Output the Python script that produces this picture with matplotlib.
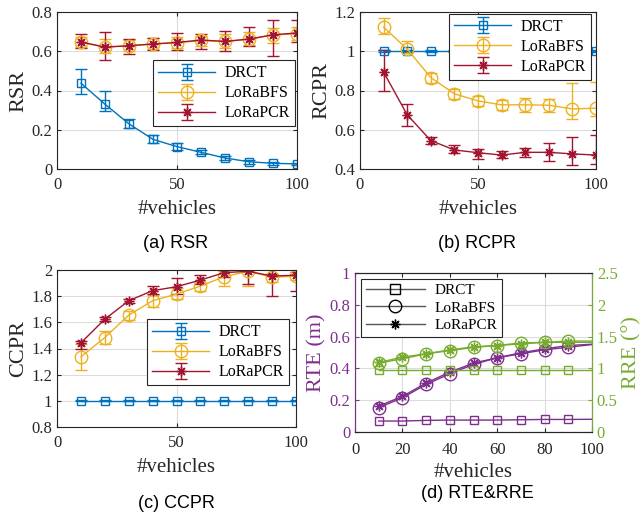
import matplotlib
matplotlib.use("Agg")
import matplotlib.pyplot as plt
from matplotlib.lines import Line2D
import numpy as np

plt.rcParams['font.family'] = ['Liberation Serif', 'DejaVu Serif']
plt.rcParams['mathtext.fontset'] = 'stix'

x = [10, 20, 30, 40, 50, 60, 70, 80, 90, 100]

# (a) RSR
rsr_drct = [0.437, 0.33, 0.23, 0.151, 0.114, 0.085, 0.056, 0.037, 0.029, 0.026]
rsr_drct_lo = [0.381, 0.293, 0.208, 0.131, 0.097, 0.075, 0.047, 0.028, 0.02, 0.018]
rsr_drct_hi = [0.51, 0.40, 0.254, 0.174, 0.131, 0.095, 0.066, 0.046, 0.037, 0.033]
rsr_bfs = [0.645, 0.622, 0.628, 0.637, 0.643, 0.655, 0.650, 0.662, 0.682, 0.690]
rsr_bfs_lo = [0.62, 0.59, 0.60, 0.612, 0.615, 0.625, 0.615, 0.632, 0.64, 0.655]
rsr_bfs_hi = [0.675, 0.66, 0.655, 0.665, 0.675, 0.68, 0.69, 0.70, 0.72, 0.725]
rsr_pcr = [0.647, 0.621, 0.628, 0.637, 0.645, 0.657, 0.650, 0.662, 0.684, 0.693]
rsr_pcr_lo = [0.616, 0.557, 0.587, 0.604, 0.608, 0.614, 0.601, 0.625, 0.574, 0.645]
rsr_pcr_hi = [0.686, 0.698, 0.664, 0.669, 0.694, 0.686, 0.705, 0.723, 0.757, 0.757]

# (b) RCPR
rcpr_drct = [1.0] * 10
rcpr_bfs = [1.123, 1.011, 0.866, 0.783, 0.747, 0.727, 0.727, 0.725, 0.706, 0.71]
rcpr_bfs_lo = [1.09, 0.99, 0.84, 0.756, 0.72, 0.70, 0.69, 0.69, 0.654, 0.671]
rcpr_bfs_hi = [1.169, 1.05, 0.888, 0.81, 0.77, 0.75, 0.76, 0.756, 0.837, 0.841]
rcpr_pcr = [0.894, 0.676, 0.545, 0.497, 0.483, 0.471, 0.485, 0.485, 0.477, 0.471]
rcpr_pcr_lo = [0.80, 0.62, 0.528, 0.483, 0.451, 0.454, 0.46, 0.443, 0.422, 0.426]
rcpr_pcr_hi = [1.004, 0.73, 0.562, 0.523, 0.50, 0.494, 0.509, 0.535, 0.563, 0.574]

# (c) CCPR
ccpr_drct = [1.0] * 10
ccpr_bfs = [1.336, 1.484, 1.655, 1.765, 1.816, 1.877, 1.949, 1.99, 1.944, 1.954]
ccpr_bfs_lo = [1.239, 1.433, 1.62, 1.72, 1.775, 1.84, 1.877, 1.877, 1.91, 1.92]
ccpr_bfs_hi = [1.433, 1.53, 1.69, 1.81, 1.86, 1.91, 1.99, 2.01, 1.97, 1.97]
ccpr_pcr = [1.443, 1.624, 1.765, 1.842, 1.872, 1.923, 1.98, 1.99, 1.954, 1.96]
ccpr_pcr_lo = [1.40, 1.61, 1.75, 1.82, 1.82, 1.89, 1.95, 1.89, 1.80, 1.84]
ccpr_pcr_hi = [1.46, 1.64, 1.78, 1.877, 1.936, 1.96, 2.0, 2.0, 1.97, 1.985]

# (d) RTE & RRE
rte_drct = [0.069, 0.069, 0.073, 0.075, 0.075, 0.075, 0.077, 0.079, 0.079, 0.080]
rte_bfs = [0.153, 0.215, 0.299, 0.366, 0.425, 0.467, 0.492, 0.517, 0.533, 0.550]
rte_pcr = [0.163, 0.224, 0.308, 0.377, 0.433, 0.467, 0.498, 0.523, 0.544, 0.552]
rre_drct = [0.98] * 10
rre_bfs = [1.083, 1.15, 1.23, 1.28, 1.33, 1.36, 1.40, 1.41, 1.43, 1.43]
rre_pcr = [1.093, 1.177, 1.23, 1.29, 1.34, 1.36, 1.386, 1.41, 1.41, 1.41]

labels = ['DRCT', 'LoRaBFS', 'LoRaPCR']
C_BLUE = '#0072BD'
C_YEL = '#EDB120'
C_RED = '#A2142F'
C_PUR = '#7E2F8E'
C_GRN = '#77AC30'
AX_COL = '#262626'
STAR = (8, 2, 0)

W, H = 644, 514
fig = plt.figure(figsize=(W / 100, H / 100), dpi=100)


def add_ax(l, r, t, b):
    return fig.add_axes([l / W, (H - b) / H, (r - l) / W, (b - t) / H])


def style(ax, right=True):
    ax.grid(True, color='#dcdcdc', linewidth=0.8)
    ax.set_axisbelow(True)
    ax.tick_params(direction='in', top=True, right=right, labelsize=12,
                   colors=AX_COL, length=3)
    ax.tick_params(axis='x', pad=6)
    for s in ax.spines.values():
        s.set_color(AX_COL)
        s.set_linewidth(0.8)


def err(lo, v, hi):
    v = np.array(v)
    return [v - np.array(lo), np.array(hi) - v]


def eb(ax, y, lo, hi, color, marker, ms, label):
    ax.errorbar(x, y, yerr=err(lo, y, hi), color=color, marker=marker, ms=ms,
                mfc='none', mec=color, capsize=4.5, lw=1.0, elinewidth=1.0,
                capthick=1.0, label=label)


def legend(ax, loc, anchor, handles=None, fs=11.5, hl=3.6):
    kw = dict(loc=loc, bbox_to_anchor=anchor, fontsize=fs, fancybox=False,
              edgecolor=AX_COL, framealpha=1, handlelength=hl, borderpad=0.3,
              labelspacing=0.25, handletextpad=0.6, borderaxespad=0)
    if handles is None:
        leg = ax.legend(**kw)
    else:
        leg = ax.legend(handles, labels, **kw)
    leg.get_frame().set_linewidth(0.8)
    return leg


# ---------- (a)
ax = add_ax(57, 297, 12, 169)
style(ax)
eb(ax, rsr_drct, rsr_drct_lo, rsr_drct_hi, C_BLUE, 's', 6, labels[0])
eb(ax, rsr_bfs, rsr_bfs_lo, rsr_bfs_hi, C_YEL, 'o', 9, labels[1])
eb(ax, rsr_pcr, rsr_pcr_lo, rsr_pcr_hi, C_RED, STAR, 7, labels[2])
ax.set_xlim(0, 100)
ax.set_ylim(0, 0.8)
ax.set_xticks([0, 50, 100])
ax.set_yticks([0, 0.2, 0.4, 0.6, 0.8])
ax.set_yticklabels(['0', '0.2', '0.4', '0.6', '0.8'])
ax.set_xlabel('#vehicles', fontsize=15, color=AX_COL, labelpad=5)
ax.set_ylabel('RSR', fontsize=16, color=AX_COL, labelpad=2)
legend(ax, 'lower right', (0.992, 0.274))

# ---------- (b)
ax = add_ax(360, 596, 12, 169)
style(ax)
eb(ax, rcpr_drct, [0.995] * 10, [1.005] * 10, C_BLUE, 's', 6, labels[0])
eb(ax, rcpr_bfs, rcpr_bfs_lo, rcpr_bfs_hi, C_YEL, 'o', 9, labels[1])
eb(ax, rcpr_pcr, rcpr_pcr_lo, rcpr_pcr_hi, C_RED, STAR, 7, labels[2])
ax.set_xlim(0, 100)
ax.set_ylim(0.4, 1.2)
ax.set_xticks([0, 50, 100])
ax.set_yticks([0.4, 0.6, 0.8, 1.0, 1.2])
ax.set_yticklabels(['0.4', '0.6', '0.8', '1', '1.2'])
ax.set_xlabel('#vehicles', fontsize=15, color=AX_COL, labelpad=5)
ax.set_ylabel('RCPR', fontsize=16, color=AX_COL, labelpad=2)
legend(ax, 'upper right', (0.979, 0.987))

# ---------- (c)
ax = add_ax(57, 296, 270, 427)
style(ax)
eb(ax, ccpr_drct, [0.995] * 10, [1.005] * 10, C_BLUE, 's', 6, labels[0])
eb(ax, ccpr_bfs, ccpr_bfs_lo, ccpr_bfs_hi, C_YEL, 'o', 9, labels[1])
eb(ax, ccpr_pcr, ccpr_pcr_lo, ccpr_pcr_hi, C_RED, STAR, 7, labels[2])
ax.set_xlim(0, 100)
ax.set_ylim(0.8, 2.0)
ax.set_xticks([0, 50, 100])
ax.set_yticks([0.8, 1.0, 1.2, 1.4, 1.6, 1.8, 2.0])
ax.set_yticklabels(['0.8', '1', '1.2', '1.4', '1.6', '1.8', '2'])
ax.set_xlabel('#vehicles', fontsize=15, color=AX_COL, labelpad=5)
ax.set_ylabel('CCPR', fontsize=16, color=AX_COL, labelpad=2)
legend(ax, 'lower right', (0.971, 0.268))

# ---------- (d)
ax = add_ax(355, 592, 273, 432)
ax2 = ax.twinx()
ax.grid(True, color='#dcdcdc', linewidth=0.8)
ax.set_axisbelow(True)
ax.tick_params(direction='in', top=True, labelsize=12, length=3)
ax.tick_params(axis='x', colors=AX_COL, pad=7)
ax.tick_params(axis='y', colors=C_PUR)
ax2.tick_params(direction='in', labelsize=12, length=3, colors=C_GRN)
for a in (ax, ax2):
    for s in a.spines.values():
        s.set_color(AX_COL)
        s.set_linewidth(0.8)
ax2.spines['left'].set_color(C_PUR)
ax2.spines['right'].set_color(C_GRN)
me = list(range(9))
ax.plot(x, rte_drct, color=C_PUR, marker='s', ms=6, mfc='none', lw=1, markevery=me)
ax.plot(x, rte_bfs, color=C_PUR, marker='o', ms=9, mfc='none', lw=1, markevery=me)
ax.plot(x, rte_pcr, color=C_PUR, marker=STAR, ms=7, mfc='none', lw=1, markevery=me)
ax2.plot(x, rre_drct, color=C_GRN, marker='s', ms=6, mfc='none', lw=1, markevery=me)
ax2.plot(x, rre_bfs, color=C_GRN, marker='o', ms=9, mfc='none', lw=1, markevery=me)
ax2.plot(x, rre_pcr, color=C_GRN, marker=STAR, ms=7, mfc='none', lw=1, markevery=me)
ax.set_xlim(0, 100)
ax.set_ylim(0, 1)
ax2.set_ylim(0, 2.5)
ax.set_xticks([0, 20, 40, 60, 80, 100])
ax.set_yticks([0, 0.2, 0.4, 0.6, 0.8, 1.0])
ax.set_yticklabels(['0', '0.2', '0.4', '0.6', '0.8', '1'])
ax2.set_yticks([0, 0.5, 1.0, 1.5, 2.0, 2.5])
ax2.set_yticklabels(['0', '0.5', '1', '1.5', '2', '2.5'])
ax.set_xlabel('#vehicles', fontsize=15, color=AX_COL, labelpad=4)
ax.set_ylabel('RTE (m)', fontsize=16, color=C_PUR, labelpad=2)
ax2.set_ylabel('RRE (°)', fontsize=16, color=C_GRN, labelpad=3)
handles = [Line2D([], [], color='#555555', marker=m, ms=s, mfc='none', mec='black', lw=1)
           for m, s in (('s', 7), ('o', 9), (STAR, 7))]
legend(ax2, 'upper left', (0.025, 0.962), handles=handles, fs=11, hl=3.9)

# subtitles
sub_font = dict(family=['Liberation Sans', 'DejaVu Sans'], fontsize=13,
                ha='center', va='center', color='black')
fig.text(176 / W, 1 - 243 / H, '(a) RSR', **sub_font)
fig.text(477 / W, 1 - 243 / H, '(b) RCPR', **sub_font)
fig.text(176 / W, 1 - 504 / H, '(c) CCPR', **sub_font)
fig.text(477 / W, 1 - 494 / H, '(d) RTE&RRE', **sub_font)

fig.savefig('out.png', dpi=100)
